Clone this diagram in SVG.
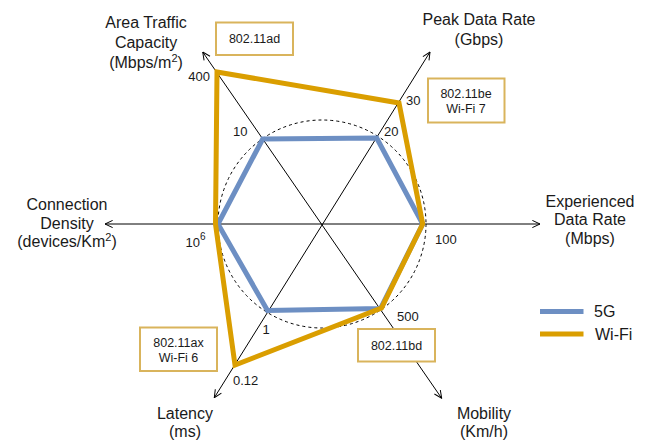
<svg xmlns="http://www.w3.org/2000/svg" width="648" height="442" viewBox="0 0 648 442">
<style>
text{font-family:"Liberation Sans",Arial,sans-serif;fill:#1a1a1a}
.lab{font-size:16px;text-anchor:middle}
.tick{font-size:13px}
.box rect{fill:#fff;stroke:#D9B45C;stroke-width:2}
.box text{font-size:12.5px;text-anchor:middle}
.axis{stroke:#000;stroke-width:1;fill:none;marker-start:url(#arr);marker-end:url(#arr)}
</style>
<defs>
<marker id="arr" viewBox="0 0 10 10" refX="9.5" refY="5" markerWidth="9" markerHeight="9" markerUnits="userSpaceOnUse" orient="auto-start-reverse">
<path d="M1,1 L9.5,5 L1,9" fill="none" stroke="#000" stroke-width="1.1"/>
</marker>
</defs>
<rect width="648" height="442" fill="#fff"/>
<g id="connectors">
<line class="axis" x1="105" y1="224" x2="540" y2="224"/>
<line class="axis" x1="202.7" y1="52" x2="441.7" y2="398.3"/>
<line class="axis" x1="214.3" y1="397.7" x2="430" y2="52"/>
<circle cx="322" cy="224" r="104" fill="none" stroke="#000" stroke-width="1" stroke-dasharray="3,3"/>
</g>
<g id="series-5g">
<polygon points="218,224 262.7,139 376.7,138 422.7,224 380.5,308.5 267.5,310.5" fill="none" stroke="#6D8FC3" stroke-width="5" stroke-linejoin="miter"/>
</g>
<g id="series-wifi">
<polygon points="217,72 399,103 422.7,224 381.5,308 235,365 215.5,224" fill="none" stroke="#DA9E00" stroke-width="5" stroke-linejoin="miter"/>
</g>
<g id="axis-area">
<text class="lab" x="146" y="28">Area Traffic</text>
<text class="lab" x="146" y="48">Capacity</text>
<text class="lab" x="146" y="68">(Mbps/m<tspan font-size="11" dy="-6">2</tspan><tspan dy="6">)</tspan></text>
</g>
<g id="axis-peak">
<text class="lab" x="479" y="25">Peak Data Rate</text>
<text class="lab" x="479" y="44.5">(Gbps)</text>
</g>
<g id="axis-density">
<text class="lab" x="67" y="210">Connection</text>
<text class="lab" x="67" y="228.5">Density</text>
<text class="lab" x="67" y="247">(devices/Km<tspan font-size="11" dy="-6">2</tspan><tspan dy="6">)</tspan></text>
</g>
<g id="axis-exp">
<text class="lab" x="590" y="206.5">Experienced</text>
<text class="lab" x="590" y="225">Data Rate</text>
<text class="lab" x="590" y="243.5">(Mbps)</text>
</g>
<g id="axis-latency">
<text class="lab" x="185" y="418.5">Latency</text>
<text class="lab" x="185" y="437">(ms)</text>
</g>
<g id="axis-mobility">
<text class="lab" x="484" y="418.5">Mobility</text>
<text class="lab" x="484" y="437">(Km/h)</text>
</g>
<g id="ticks">
<text class="tick" x="210" y="81" text-anchor="end">400</text>
<text class="tick" x="233" y="135.5">10</text>
<text class="tick" x="384" y="135.5">20</text>
<text class="tick" x="406" y="105">30</text>
<text class="tick" x="435" y="243.5">100</text>
<text class="tick" x="185.5" y="246.5">10<tspan font-size="10" dy="-7">6</tspan></text>
<text class="tick" x="397" y="320.5">500</text>
<text class="tick" x="262.5" y="334">1</text>
<text class="tick" x="233" y="385">0.12</text>
</g>
<g id="box-ad" class="box">
<rect x="216" y="22.5" width="77" height="32.5"/>
<text x="254.5" y="43">802.11ad</text>
</g>
<g id="box-be" class="box">
<rect x="428" y="78.5" width="76.5" height="44"/>
<text x="466" y="97.5">802.11be</text>
<text x="466" y="113">Wi-Fi 7</text>
</g>
<g id="box-ax" class="box">
<rect x="140" y="327.5" width="77" height="43.5"/>
<text x="178.5" y="346.5">802.11ax</text>
<text x="178.5" y="361.5">Wi-Fi 6</text>
</g>
<g id="box-bd" class="box">
<rect x="358" y="329" width="77" height="32.5"/>
<text x="396.5" y="349.5">802.11bd</text>
</g>
<g id="legend">
<line x1="540" y1="311.5" x2="583.5" y2="311.5" stroke="#6D8FC3" stroke-width="5"/>
<line x1="540" y1="334" x2="583.5" y2="334" stroke="#DA9E00" stroke-width="5"/>
<text x="594" y="316.5" font-size="16">5G</text>
<text x="595" y="339.5" font-size="16">Wi-Fi</text>
</g>
</svg>
